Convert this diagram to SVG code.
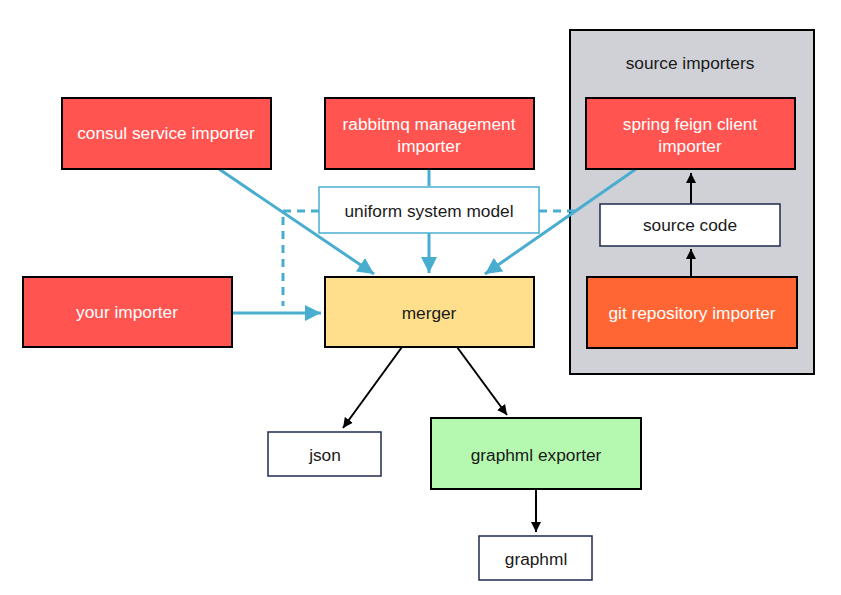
<svg xmlns="http://www.w3.org/2000/svg" width="841" height="595" viewBox="0 0 841 595">
<style>
.t{font-family:"Liberation Sans",Arial,sans-serif;font-size:17.3px;text-anchor:middle;dominant-baseline:central;fill:#1a1a1a}
.w{fill:#ffffff}
.red{fill:#FF5450;stroke:#000;stroke-width:2}
.box{fill:#fff;stroke:#1f2a4d;stroke-width:1.5}
.blue{stroke:#49ADCF;stroke-width:3;fill:none}
.blk{stroke:#000;stroke-width:2;fill:none}
</style>
<defs>
<marker id="ab" viewBox="0 0 10 10" refX="10" refY="5" markerWidth="5.5" markerHeight="5.5" markerUnits="strokeWidth" orient="auto">
<path d="M0,0 L10,5 L0,10 z" fill="#49ADCF"/>
</marker>
<marker id="ak" viewBox="0 0 10 10" refX="10" refY="5" markerWidth="5" markerHeight="5.5" markerUnits="strokeWidth" orient="auto">
<path d="M0,0 L10,5 L0,10 z" fill="#000"/>
</marker>
</defs>
<rect width="841" height="595" fill="#fff"/>
<g id="source-importers">
<rect x="570" y="30" width="244" height="344" fill="#CFD1D6" stroke="#000" stroke-width="2"/>
<text class="t" x="690" y="63">source importers</text>
</g>
<g id="connectors">
<line class="blue" x1="219" y1="169" x2="374" y2="274" marker-end="url(#ab)"/>
<line class="blue" x1="429" y1="169" x2="429" y2="186"/>
<line class="blue" x1="429" y1="233" x2="429" y2="273" marker-end="url(#ab)"/>
<line class="blue" x1="636" y1="169" x2="485" y2="274" marker-end="url(#ab)"/>
<line class="blue" x1="232" y1="313" x2="321" y2="313" marker-end="url(#ab)"/>
<path class="blue" d="M319,211 H283 V306" stroke-dasharray="8,6"/>
<line class="blue" x1="539" y1="211" x2="575" y2="211" stroke-dasharray="8,6"/>
<line class="blk" x1="402" y1="347" x2="343" y2="428" marker-end="url(#ak)"/>
<line class="blk" x1="457" y1="347" x2="507" y2="415" marker-end="url(#ak)"/>
<line class="blk" x1="536" y1="489" x2="536" y2="532" marker-end="url(#ak)"/>
<line class="blk" x1="691" y1="277" x2="691" y2="249" marker-end="url(#ak)"/>
<line class="blk" x1="691" y1="204" x2="691" y2="173" marker-end="url(#ak)"/>
</g>
<g id="consul">
<rect class="red" x="62" y="98" width="209" height="71"/>
<text class="t w" x="166" y="133">consul service importer</text>
</g>
<g id="rabbitmq">
<rect class="red" x="325" y="98" width="209" height="71"/>
<text class="t w" x="429" y="124">rabbitmq management</text>
<text class="t w" x="429" y="146">importer</text>
</g>
<g id="spring">
<rect class="red" x="586" y="98" width="209" height="71"/>
<text class="t w" x="690" y="124">spring feign client</text>
<text class="t w" x="690" y="146">importer</text>
</g>
<g id="uniform">
<rect x="319" y="187" width="220" height="46" fill="#fff" stroke="#49ADCF" stroke-width="1.5"/>
<text class="t" x="429" y="211">uniform system model</text>
</g>
<g id="source-code">
<rect class="box" x="600" y="204" width="180" height="42"/>
<text class="t" x="690" y="225">source code</text>
</g>
<g id="your">
<rect class="red" x="23" y="277" width="209" height="70"/>
<text class="t w" x="127" y="312">your importer</text>
</g>
<g id="merger">
<rect x="325" y="277" width="209" height="70" fill="#FFDF8C" stroke="#000" stroke-width="2"/>
<text class="t" x="429" y="313">merger</text>
</g>
<g id="git">
<rect x="587" y="277" width="210" height="71" fill="#FF6633" stroke="#000" stroke-width="2"/>
<text class="t w" x="692" y="313">git repository importer</text>
</g>
<g id="json">
<rect class="box" x="268" y="432" width="113" height="44"/>
<text class="t" x="325" y="455">json</text>
</g>
<g id="graphml-exporter">
<rect x="431" y="418" width="210" height="71" fill="#B5F8B0" stroke="#000" stroke-width="2"/>
<text class="t" x="536" y="455">graphml exporter</text>
</g>
<g id="graphml">
<rect class="box" x="479" y="536" width="113" height="44"/>
<text class="t" x="536" y="559">graphml</text>
</g>
</svg>
